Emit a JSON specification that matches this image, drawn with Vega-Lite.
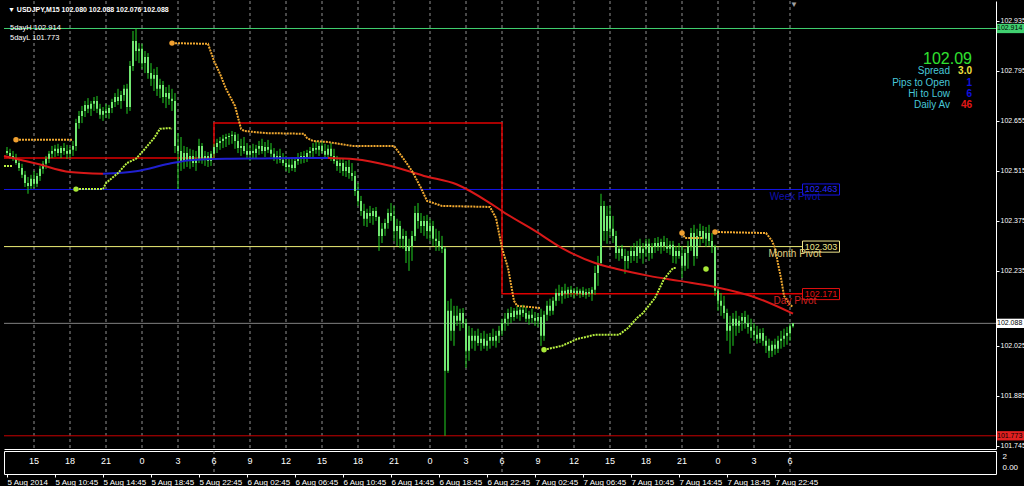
{
"$schema": "https://vega.github.io/schema/vega-lite/v6.json",
"background": "black",
"padding": 0,
"spacing": 2,
"bounds": "flush",
"config": {"view": {"stroke": null}, "axis": {"grid": false, "title": null}},
"datasets": {
"grid": [{"t":"2014-08-05T09:00Z","hr":"15"},{"t":"2014-08-05T12:00Z","hr":"18"},{"t":"2014-08-05T15:00Z","hr":"21"},{"t":"2014-08-05T18:00Z","hr":"0"},{"t":"2014-08-05T21:00Z","hr":"3"},{"t":"2014-08-06T00:00Z","hr":"6"},{"t":"2014-08-06T03:00Z","hr":"9"},{"t":"2014-08-06T06:00Z","hr":"12"},{"t":"2014-08-06T09:00Z","hr":"15"},{"t":"2014-08-06T12:00Z","hr":"18"},{"t":"2014-08-06T15:00Z","hr":"21"},{"t":"2014-08-06T18:00Z","hr":"0"},{"t":"2014-08-06T21:00Z","hr":"3"},{"t":"2014-08-07T00:00Z","hr":"6"},{"t":"2014-08-07T03:00Z","hr":"9"},{"t":"2014-08-07T06:00Z","hr":"12"},{"t":"2014-08-07T09:00Z","hr":"15"},{"t":"2014-08-07T12:00Z","hr":"18"},{"t":"2014-08-07T15:00Z","hr":"21"},{"t":"2014-08-07T18:00Z","hr":"0"},{"t":"2014-08-07T21:00Z","hr":"3"},{"t":"2014-08-08T00:00Z","hr":"6"}],
"sep": [{"t":"2014-08-06T00:00Z"},{"t":"2014-08-07T00:00Z"},{"t":"2014-08-08T00:00Z"}],
"hl": [{"k":"h5","p":102.914},{"k":"l5","p":101.773},{"k":"cur","p":102.088}],
"pv": [{"k":"wk","p":102.463,"t1":"2014-08-05T06:30Z","t2":"2014-08-08T01:05Z"},{"k":"mo","p":102.303,"t1":"2014-08-05T06:30Z","t2":"2014-08-08T01:05Z"}],
"dp": [{"t":"2014-08-05T06:30Z","p":102.551},{"t":"2014-08-06T00:00Z","p":102.649},{"t":"2014-08-07T00:00Z","p":102.171},{"t":"2014-08-08T01:05Z","p":102.171}],
"ma": [
{"t":"2014-08-05T06:30Z","v":102.557,"s":"a"},{"t":"2014-08-05T09:15Z","v":102.535,"s":"a"},{"t":"2014-08-05T12:00Z","v":102.512,"s":"a"},{"t":"2014-08-05T14:45Z","v":102.507,"s":"a"},
{"t":"2014-08-05T14:45Z","v":102.507,"s":"b"},{"t":"2014-08-05T17:30Z","v":102.514,"s":"b"},{"t":"2014-08-05T20:15Z","v":102.535,"s":"b"},{"t":"2014-08-05T22:00Z","v":102.545,"s":"b"},{"t":"2014-08-06T01:00Z","v":102.549,"s":"b"},{"t":"2014-08-06T04:00Z","v":102.550,"s":"b"},{"t":"2014-08-06T07:00Z","v":102.551,"s":"b"},{"t":"2014-08-06T09:30Z","v":102.551,"s":"b"},
{"t":"2014-08-06T09:30Z","v":102.551,"s":"c"},{"t":"2014-08-06T11:45Z","v":102.548,"s":"c"},{"t":"2014-08-06T14:45Z","v":102.529,"s":"c"},{"t":"2014-08-06T17:30Z","v":102.501,"s":"c"},{"t":"2014-08-06T20:15Z","v":102.477,"s":"c"},{"t":"2014-08-06T23:00Z","v":102.425,"s":"c"},{"t":"2014-08-07T00:15Z","v":102.397,"s":"c"},{"t":"2014-08-07T02:45Z","v":102.347,"s":"c"},{"t":"2014-08-07T05:00Z","v":102.299,"s":"c"},{"t":"2014-08-07T07:45Z","v":102.257,"s":"c"},{"t":"2014-08-07T09:30Z","v":102.241,"s":"c"},{"t":"2014-08-07T12:15Z","v":102.221,"s":"c"},{"t":"2014-08-07T14:45Z","v":102.207,"s":"c"},{"t":"2014-08-07T17:45Z","v":102.190,"s":"c"},{"t":"2014-08-07T21:00Z","v":102.162,"s":"c"},{"t":"2014-08-08T00:15Z","v":102.115,"s":"c"}
],
"ind": [
{"t":"2014-08-05T07:30Z","v":102.602,"s":"o1","k":"o"},{"t":"2014-08-05T12:15Z","v":102.602,"s":"o1","k":"o"},
{"t":"2014-08-05T20:30Z","v":102.873,"s":"o2","k":"o"},{"t":"2014-08-05T23:30Z","v":102.871,"s":"o2","k":"o"},{"t":"2014-08-06T00:00Z","v":102.823,"s":"o2","k":"o"},{"t":"2014-08-06T00:30Z","v":102.787,"s":"o2","k":"o"},{"t":"2014-08-06T01:00Z","v":102.745,"s":"o2","k":"o"},{"t":"2014-08-06T01:45Z","v":102.697,"s":"o2","k":"o"},{"t":"2014-08-06T02:15Z","v":102.633,"s":"o2","k":"o"},{"t":"2014-08-06T02:30Z","v":102.627,"s":"o2","k":"o"},{"t":"2014-08-06T04:15Z","v":102.621,"s":"o2","k":"o"},{"t":"2014-08-06T07:30Z","v":102.619,"s":"o2","k":"o"},{"t":"2014-08-06T07:45Z","v":102.607,"s":"o2","k":"o"},{"t":"2014-08-06T08:15Z","v":102.599,"s":"o2","k":"o"},{"t":"2014-08-06T09:30Z","v":102.596,"s":"o2","k":"o"},{"t":"2014-08-06T11:30Z","v":102.585,"s":"o2","k":"o"},{"t":"2014-08-06T15:00Z","v":102.585,"s":"o2","k":"o"},{"t":"2014-08-06T15:45Z","v":102.551,"s":"o2","k":"o"},{"t":"2014-08-06T16:30Z","v":102.515,"s":"o2","k":"o"},{"t":"2014-08-06T17:15Z","v":102.467,"s":"o2","k":"o"},{"t":"2014-08-06T17:45Z","v":102.431,"s":"o2","k":"o"},{"t":"2014-08-06T19:00Z","v":102.417,"s":"o2","k":"o"},{"t":"2014-08-06T23:00Z","v":102.414,"s":"o2","k":"o"},{"t":"2014-08-06T23:30Z","v":102.383,"s":"o2","k":"o"},{"t":"2014-08-07T00:00Z","v":102.299,"s":"o2","k":"o"},{"t":"2014-08-07T00:30Z","v":102.243,"s":"o2","k":"o"},{"t":"2014-08-07T01:00Z","v":102.151,"s":"o2","k":"o"},{"t":"2014-08-07T01:15Z","v":102.137,"s":"o2","k":"o"},{"t":"2014-08-07T03:15Z","v":102.131,"s":"o2","k":"o"},
{"t":"2014-08-07T15:00Z","v":102.341,"s":"o3","k":"o"},{"t":"2014-08-07T15:15Z","v":102.327,"s":"o3","k":"o"},{"t":"2014-08-07T16:45Z","v":102.327,"s":"o3","k":"o"},
{"t":"2014-08-07T17:45Z","v":102.344,"s":"o4","k":"o"},{"t":"2014-08-07T22:00Z","v":102.341,"s":"o4","k":"o"},{"t":"2014-08-07T22:30Z","v":102.319,"s":"o4","k":"o"},{"t":"2014-08-07T22:45Z","v":102.299,"s":"o4","k":"o"},{"t":"2014-08-07T23:00Z","v":102.255,"s":"o4","k":"o"},{"t":"2014-08-07T23:15Z","v":102.215,"s":"o4","k":"o"},{"t":"2014-08-07T23:30Z","v":102.165,"s":"o4","k":"o"},{"t":"2014-08-08T00:00Z","v":102.140,"s":"o4","k":"o"},{"t":"2014-08-08T00:15Z","v":102.134,"s":"o4","k":"o"},
{"t":"2014-08-05T06:30Z","v":102.529,"s":"g1","k":"g"},{"t":"2014-08-05T07:15Z","v":102.529,"s":"g1","k":"g"},
{"t":"2014-08-05T12:30Z","v":102.464,"s":"g2","k":"g"},{"t":"2014-08-05T14:45Z","v":102.464,"s":"g2","k":"g"},{"t":"2014-08-05T15:00Z","v":102.481,"s":"g2","k":"g"},{"t":"2014-08-05T16:00Z","v":102.509,"s":"g2","k":"g"},{"t":"2014-08-05T16:45Z","v":102.537,"s":"g2","k":"g"},{"t":"2014-08-05T17:30Z","v":102.549,"s":"g2","k":"g"},{"t":"2014-08-05T18:15Z","v":102.577,"s":"g2","k":"g"},{"t":"2014-08-05T19:00Z","v":102.607,"s":"g2","k":"g"},{"t":"2014-08-05T19:30Z","v":102.633,"s":"g2","k":"g"},{"t":"2014-08-05T20:15Z","v":102.635,"s":"g2","k":"g"},{"t":"2014-08-05T20:30Z","v":102.633,"s":"g2","k":"g"},
{"t":"2014-08-07T03:30Z","v":102.014,"s":"g3","k":"g"},{"t":"2014-08-07T05:00Z","v":102.025,"s":"g3","k":"g"},{"t":"2014-08-07T06:15Z","v":102.044,"s":"g3","k":"g"},{"t":"2014-08-07T07:45Z","v":102.056,"s":"g3","k":"g"},{"t":"2014-08-07T09:45Z","v":102.056,"s":"g3","k":"g"},{"t":"2014-08-07T10:30Z","v":102.075,"s":"g3","k":"g"},{"t":"2014-08-07T11:15Z","v":102.103,"s":"g3","k":"g"},{"t":"2014-08-07T11:45Z","v":102.117,"s":"g3","k":"g"},{"t":"2014-08-07T12:45Z","v":102.159,"s":"g3","k":"g"},{"t":"2014-08-07T13:30Z","v":102.212,"s":"g3","k":"g"},{"t":"2014-08-07T14:15Z","v":102.243,"s":"g3","k":"g"},{"t":"2014-08-07T14:30Z","v":102.243,"s":"g3","k":"g"}
],
"dots": [{"t":"2014-08-05T07:30Z","v":102.602,"k":"o"},{"t":"2014-08-05T20:30Z","v":102.873,"k":"o"},{"t":"2014-08-07T15:00Z","v":102.341,"k":"o"},{"t":"2014-08-07T17:45Z","v":102.344,"k":"o"},{"t":"2014-08-05T12:30Z","v":102.464,"k":"g"},{"t":"2014-08-07T03:30Z","v":102.014,"k":"g"},{"t":"2014-08-07T17:00Z","v":102.240,"k":"g"}],
"pbox": [{"k":"wk","t":"2014-08-08T02:35Z","p":102.463,"s":"102.463"},{"k":"mo","t":"2014-08-08T02:35Z","p":102.303,"s":"102.303"},{"k":"dy","t":"2014-08-08T02:35Z","p":102.170,"s":"102.171"}],
"pname": [{"k":"wk","t":"2014-08-08T00:25Z","p":102.443,"s":"Week Pivot"},{"k":"mo","t":"2014-08-08T00:25Z","p":102.283,"s":"Month Pivot"},{"k":"dy","t":"2014-08-08T00:25Z","p":102.151,"s":"Day Pivot"}],
"abox": [{"k":"h5","tb":"2014-08-08T18:32Z","tt":"2014-08-08T17:15Z","p":102.914,"s":"102.914"},{"k":"cur","tb":"2014-08-08T18:32Z","tt":"2014-08-08T17:15Z","p":102.088,"s":"102.088"},{"k":"l5","tb":"2014-08-08T18:32Z","tt":"2014-08-08T17:15Z","p":101.773,"s":"101.773"}],
"title": [{"t":"2014-08-05T06:50Z","p":102.966,"s":"▼ USDJPY,M15  102.080 102.088 102.076 102.088"}],
"five": [{"t":"2014-08-05T07:00Z","p":102.915,"s":"5dayH 102.914"},{"t":"2014-08-05T07:00Z","p":102.887,"s":"5dayL 101.773"}],
"big": [{"t":"2014-08-08T15:10Z","p":102.829,"s":"102.09"}],
"ilab": [{"t":"2014-08-08T13:20Z","p":102.795,"s":"Spread"},{"t":"2014-08-08T13:20Z","p":102.762,"s":"Pips to Open"},{"t":"2014-08-08T13:20Z","p":102.731,"s":"Hi to Low"},{"t":"2014-08-08T13:20Z","p":102.700,"s":"Daily Av"}],
"ival": [{"k":"sp","t":"2014-08-08T15:10Z","p":102.795,"s":"3.0"},{"k":"po","t":"2014-08-08T15:10Z","p":102.762,"s":"1"},{"k":"hl","t":"2014-08-08T15:10Z","p":102.731,"s":"6"},{"k":"da","t":"2014-08-08T15:10Z","p":102.700,"s":"46"}],
"shift": [{"t":"2014-08-08T00:20Z","p":102.979,"s":"▼"}],
"bars": [
{"t":"2014-08-05T06:45Z","o":102.571,"h":102.582,"l":102.560,"c":102.565},
{"t":"2014-08-05T07:00Z","o":102.565,"h":102.577,"l":102.549,"c":102.557},
{"t":"2014-08-05T07:15Z","o":102.557,"h":102.571,"l":102.543,"c":102.551},
{"t":"2014-08-05T07:30Z","o":102.551,"h":102.563,"l":102.532,"c":102.537},
{"t":"2014-08-05T07:45Z","o":102.537,"h":102.549,"l":102.515,"c":102.523},
{"t":"2014-08-05T08:00Z","o":102.523,"h":102.535,"l":102.495,"c":102.504},
{"t":"2014-08-05T08:15Z","o":102.504,"h":102.515,"l":102.470,"c":102.481},
{"t":"2014-08-05T08:30Z","o":102.481,"h":102.498,"l":102.451,"c":102.473},
{"t":"2014-08-05T08:45Z","o":102.473,"h":102.504,"l":102.465,"c":102.493},
{"t":"2014-08-05T09:00Z","o":102.493,"h":102.515,"l":102.467,"c":102.479},
{"t":"2014-08-05T09:15Z","o":102.479,"h":102.509,"l":102.470,"c":102.501},
{"t":"2014-08-05T09:30Z","o":102.501,"h":102.529,"l":102.487,"c":102.521},
{"t":"2014-08-05T09:45Z","o":102.521,"h":102.543,"l":102.507,"c":102.535},
{"t":"2014-08-05T10:00Z","o":102.535,"h":102.557,"l":102.521,"c":102.549},
{"t":"2014-08-05T10:15Z","o":102.549,"h":102.571,"l":102.537,"c":102.563},
{"t":"2014-08-05T10:30Z","o":102.563,"h":102.585,"l":102.551,"c":102.571},
{"t":"2014-08-05T10:45Z","o":102.571,"h":102.588,"l":102.554,"c":102.577},
{"t":"2014-08-05T11:00Z","o":102.577,"h":102.591,"l":102.557,"c":102.565},
{"t":"2014-08-05T11:15Z","o":102.565,"h":102.585,"l":102.551,"c":102.579},
{"t":"2014-08-05T11:30Z","o":102.579,"h":102.593,"l":102.560,"c":102.571},
{"t":"2014-08-05T11:45Z","o":102.571,"h":102.588,"l":102.549,"c":102.563},
{"t":"2014-08-05T12:00Z","o":102.563,"h":102.582,"l":102.551,"c":102.574},
{"t":"2014-08-05T12:15Z","o":102.574,"h":102.599,"l":102.557,"c":102.585},
{"t":"2014-08-05T12:30Z","o":102.585,"h":102.661,"l":102.571,"c":102.649},
{"t":"2014-08-05T12:45Z","o":102.649,"h":102.683,"l":102.633,"c":102.669},
{"t":"2014-08-05T13:00Z","o":102.669,"h":102.697,"l":102.649,"c":102.683},
{"t":"2014-08-05T13:15Z","o":102.683,"h":102.711,"l":102.666,"c":102.700},
{"t":"2014-08-05T13:30Z","o":102.700,"h":102.719,"l":102.677,"c":102.689},
{"t":"2014-08-05T13:45Z","o":102.689,"h":102.711,"l":102.669,"c":102.703},
{"t":"2014-08-05T14:00Z","o":102.703,"h":102.722,"l":102.683,"c":102.711},
{"t":"2014-08-05T14:15Z","o":102.711,"h":102.725,"l":102.677,"c":102.689},
{"t":"2014-08-05T14:30Z","o":102.689,"h":102.703,"l":102.661,"c":102.672},
{"t":"2014-08-05T14:45Z","o":102.672,"h":102.694,"l":102.655,"c":102.683},
{"t":"2014-08-05T15:00Z","o":102.683,"h":102.703,"l":102.663,"c":102.677},
{"t":"2014-08-05T15:15Z","o":102.677,"h":102.700,"l":102.661,"c":102.691},
{"t":"2014-08-05T15:30Z","o":102.691,"h":102.717,"l":102.677,"c":102.708},
{"t":"2014-08-05T15:45Z","o":102.708,"h":102.733,"l":102.694,"c":102.722},
{"t":"2014-08-05T16:00Z","o":102.722,"h":102.745,"l":102.700,"c":102.711},
{"t":"2014-08-05T16:15Z","o":102.711,"h":102.739,"l":102.689,"c":102.728},
{"t":"2014-08-05T16:30Z","o":102.728,"h":102.756,"l":102.711,"c":102.745},
{"t":"2014-08-05T16:45Z","o":102.745,"h":102.759,"l":102.675,"c":102.694},
{"t":"2014-08-05T17:00Z","o":102.694,"h":102.823,"l":102.683,"c":102.809},
{"t":"2014-08-05T17:15Z","o":102.809,"h":102.907,"l":102.795,"c":102.879},
{"t":"2014-08-05T17:30Z","o":102.879,"h":102.914,"l":102.823,"c":102.851},
{"t":"2014-08-05T17:45Z","o":102.851,"h":102.873,"l":102.817,"c":102.857},
{"t":"2014-08-05T18:00Z","o":102.857,"h":102.871,"l":102.801,"c":102.817},
{"t":"2014-08-05T18:15Z","o":102.817,"h":102.851,"l":102.789,"c":102.834},
{"t":"2014-08-05T18:30Z","o":102.834,"h":102.845,"l":102.773,"c":102.789},
{"t":"2014-08-05T18:45Z","o":102.789,"h":102.817,"l":102.753,"c":102.773},
{"t":"2014-08-05T19:00Z","o":102.773,"h":102.801,"l":102.739,"c":102.784},
{"t":"2014-08-05T19:15Z","o":102.784,"h":102.806,"l":102.725,"c":102.745},
{"t":"2014-08-05T19:30Z","o":102.745,"h":102.773,"l":102.719,"c":102.756},
{"t":"2014-08-05T19:45Z","o":102.756,"h":102.767,"l":102.705,"c":102.722},
{"t":"2014-08-05T20:00Z","o":102.722,"h":102.750,"l":102.691,"c":102.733},
{"t":"2014-08-05T20:15Z","o":102.733,"h":102.756,"l":102.700,"c":102.717},
{"t":"2014-08-05T20:30Z","o":102.717,"h":102.745,"l":102.683,"c":102.711},
{"t":"2014-08-05T20:45Z","o":102.711,"h":102.733,"l":102.565,"c":102.585},
{"t":"2014-08-05T21:00Z","o":102.585,"h":102.621,"l":102.465,"c":102.571},
{"t":"2014-08-05T21:15Z","o":102.571,"h":102.610,"l":102.515,"c":102.543},
{"t":"2014-08-05T21:30Z","o":102.543,"h":102.585,"l":102.521,"c":102.565},
{"t":"2014-08-05T21:45Z","o":102.565,"h":102.582,"l":102.526,"c":102.543},
{"t":"2014-08-05T22:00Z","o":102.543,"h":102.577,"l":102.521,"c":102.557},
{"t":"2014-08-05T22:15Z","o":102.557,"h":102.574,"l":102.526,"c":102.537},
{"t":"2014-08-05T22:30Z","o":102.537,"h":102.571,"l":102.515,"c":102.549},
{"t":"2014-08-05T22:45Z","o":102.549,"h":102.605,"l":102.537,"c":102.585},
{"t":"2014-08-05T23:00Z","o":102.585,"h":102.593,"l":102.535,"c":102.549},
{"t":"2014-08-05T23:15Z","o":102.549,"h":102.571,"l":102.529,"c":102.557},
{"t":"2014-08-05T23:30Z","o":102.557,"h":102.568,"l":102.526,"c":102.543},
{"t":"2014-08-05T23:45Z","o":102.543,"h":102.571,"l":102.529,"c":102.563},
{"t":"2014-08-06T00:00Z","o":102.563,"h":102.591,"l":102.549,"c":102.582},
{"t":"2014-08-06T00:15Z","o":102.582,"h":102.605,"l":102.565,"c":102.593},
{"t":"2014-08-06T00:30Z","o":102.593,"h":102.610,"l":102.574,"c":102.599},
{"t":"2014-08-06T00:45Z","o":102.599,"h":102.616,"l":102.579,"c":102.605},
{"t":"2014-08-06T01:00Z","o":102.605,"h":102.619,"l":102.582,"c":102.610},
{"t":"2014-08-06T01:15Z","o":102.610,"h":102.621,"l":102.588,"c":102.613},
{"t":"2014-08-06T01:30Z","o":102.613,"h":102.627,"l":102.591,"c":102.616},
{"t":"2014-08-06T01:45Z","o":102.616,"h":102.624,"l":102.577,"c":102.599},
{"t":"2014-08-06T02:00Z","o":102.599,"h":102.619,"l":102.565,"c":102.579},
{"t":"2014-08-06T02:15Z","o":102.579,"h":102.605,"l":102.557,"c":102.585},
{"t":"2014-08-06T02:30Z","o":102.585,"h":102.610,"l":102.563,"c":102.571},
{"t":"2014-08-06T02:45Z","o":102.571,"h":102.593,"l":102.549,"c":102.560},
{"t":"2014-08-06T03:00Z","o":102.560,"h":102.585,"l":102.543,"c":102.571},
{"t":"2014-08-06T03:15Z","o":102.571,"h":102.591,"l":102.551,"c":102.565},
{"t":"2014-08-06T03:30Z","o":102.565,"h":102.588,"l":102.549,"c":102.577},
{"t":"2014-08-06T03:45Z","o":102.577,"h":102.599,"l":102.560,"c":102.585},
{"t":"2014-08-06T04:00Z","o":102.585,"h":102.605,"l":102.563,"c":102.571},
{"t":"2014-08-06T04:15Z","o":102.571,"h":102.596,"l":102.554,"c":102.582},
{"t":"2014-08-06T04:30Z","o":102.582,"h":102.602,"l":102.565,"c":102.574},
{"t":"2014-08-06T04:45Z","o":102.574,"h":102.593,"l":102.554,"c":102.563},
{"t":"2014-08-06T05:00Z","o":102.563,"h":102.579,"l":102.543,"c":102.551},
{"t":"2014-08-06T05:15Z","o":102.551,"h":102.571,"l":102.535,"c":102.557},
{"t":"2014-08-06T05:30Z","o":102.557,"h":102.577,"l":102.537,"c":102.546},
{"t":"2014-08-06T05:45Z","o":102.546,"h":102.565,"l":102.529,"c":102.537},
{"t":"2014-08-06T06:00Z","o":102.537,"h":102.557,"l":102.515,"c":102.526},
{"t":"2014-08-06T06:15Z","o":102.526,"h":102.549,"l":102.509,"c":102.532},
{"t":"2014-08-06T06:30Z","o":102.532,"h":102.551,"l":102.515,"c":102.523},
{"t":"2014-08-06T06:45Z","o":102.523,"h":102.549,"l":102.512,"c":102.543},
{"t":"2014-08-06T07:00Z","o":102.543,"h":102.565,"l":102.532,"c":102.549},
{"t":"2014-08-06T07:15Z","o":102.549,"h":102.568,"l":102.535,"c":102.557},
{"t":"2014-08-06T07:30Z","o":102.557,"h":102.571,"l":102.537,"c":102.551},
{"t":"2014-08-06T07:45Z","o":102.551,"h":102.574,"l":102.540,"c":102.565},
{"t":"2014-08-06T08:00Z","o":102.565,"h":102.582,"l":102.549,"c":102.571},
{"t":"2014-08-06T08:15Z","o":102.571,"h":102.593,"l":102.554,"c":102.579},
{"t":"2014-08-06T08:30Z","o":102.579,"h":102.599,"l":102.563,"c":102.574},
{"t":"2014-08-06T08:45Z","o":102.574,"h":102.596,"l":102.557,"c":102.585},
{"t":"2014-08-06T09:00Z","o":102.585,"h":102.599,"l":102.565,"c":102.571},
{"t":"2014-08-06T09:15Z","o":102.571,"h":102.591,"l":102.549,"c":102.560},
{"t":"2014-08-06T09:30Z","o":102.560,"h":102.588,"l":102.549,"c":102.577},
{"t":"2014-08-06T09:45Z","o":102.577,"h":102.593,"l":102.543,"c":102.557},
{"t":"2014-08-06T10:00Z","o":102.557,"h":102.577,"l":102.535,"c":102.543},
{"t":"2014-08-06T10:15Z","o":102.543,"h":102.557,"l":102.515,"c":102.529},
{"t":"2014-08-06T10:30Z","o":102.529,"h":102.549,"l":102.509,"c":102.537},
{"t":"2014-08-06T10:45Z","o":102.537,"h":102.551,"l":102.501,"c":102.515},
{"t":"2014-08-06T11:00Z","o":102.515,"h":102.543,"l":102.498,"c":102.526},
{"t":"2014-08-06T11:15Z","o":102.526,"h":102.546,"l":102.493,"c":102.509},
{"t":"2014-08-06T11:30Z","o":102.509,"h":102.537,"l":102.487,"c":102.501},
{"t":"2014-08-06T11:45Z","o":102.501,"h":102.515,"l":102.445,"c":102.459},
{"t":"2014-08-06T12:00Z","o":102.459,"h":102.481,"l":102.417,"c":102.431},
{"t":"2014-08-06T12:15Z","o":102.431,"h":102.445,"l":102.389,"c":102.403},
{"t":"2014-08-06T12:30Z","o":102.403,"h":102.423,"l":102.361,"c":102.381},
{"t":"2014-08-06T12:45Z","o":102.381,"h":102.409,"l":102.358,"c":102.397},
{"t":"2014-08-06T13:00Z","o":102.397,"h":102.417,"l":102.369,"c":102.389},
{"t":"2014-08-06T13:15Z","o":102.389,"h":102.411,"l":102.364,"c":102.403},
{"t":"2014-08-06T13:30Z","o":102.403,"h":102.414,"l":102.375,"c":102.386},
{"t":"2014-08-06T13:45Z","o":102.386,"h":102.389,"l":102.291,"c":102.333},
{"t":"2014-08-06T14:00Z","o":102.333,"h":102.369,"l":102.313,"c":102.353},
{"t":"2014-08-06T14:15Z","o":102.353,"h":102.381,"l":102.333,"c":102.369},
{"t":"2014-08-06T14:30Z","o":102.369,"h":102.409,"l":102.353,"c":102.397},
{"t":"2014-08-06T14:45Z","o":102.397,"h":102.425,"l":102.375,"c":102.389},
{"t":"2014-08-06T15:00Z","o":102.389,"h":102.417,"l":102.319,"c":102.347},
{"t":"2014-08-06T15:15Z","o":102.347,"h":102.381,"l":102.305,"c":102.361},
{"t":"2014-08-06T15:30Z","o":102.361,"h":102.375,"l":102.299,"c":102.325},
{"t":"2014-08-06T15:45Z","o":102.325,"h":102.353,"l":102.297,"c":102.333},
{"t":"2014-08-06T16:00Z","o":102.333,"h":102.347,"l":102.257,"c":102.291},
{"t":"2014-08-06T16:15Z","o":102.291,"h":102.325,"l":102.235,"c":102.305},
{"t":"2014-08-06T16:30Z","o":102.305,"h":102.347,"l":102.263,"c":102.333},
{"t":"2014-08-06T16:45Z","o":102.333,"h":102.417,"l":102.319,"c":102.397},
{"t":"2014-08-06T17:00Z","o":102.397,"h":102.425,"l":102.353,"c":102.375},
{"t":"2014-08-06T17:15Z","o":102.375,"h":102.397,"l":102.341,"c":102.361},
{"t":"2014-08-06T17:30Z","o":102.361,"h":102.389,"l":102.333,"c":102.375},
{"t":"2014-08-06T17:45Z","o":102.375,"h":102.392,"l":102.325,"c":102.347},
{"t":"2014-08-06T18:00Z","o":102.347,"h":102.381,"l":102.319,"c":102.361},
{"t":"2014-08-06T18:15Z","o":102.361,"h":102.375,"l":102.305,"c":102.325},
{"t":"2014-08-06T18:30Z","o":102.325,"h":102.353,"l":102.291,"c":102.319},
{"t":"2014-08-06T18:45Z","o":102.319,"h":102.347,"l":102.291,"c":102.305},
{"t":"2014-08-06T19:00Z","o":102.305,"h":102.333,"l":102.285,"c":102.297},
{"t":"2014-08-06T19:15Z","o":102.297,"h":102.302,"l":101.773,"c":101.955},
{"t":"2014-08-06T19:30Z","o":101.955,"h":102.151,"l":101.949,"c":102.123},
{"t":"2014-08-06T19:45Z","o":102.123,"h":102.157,"l":102.039,"c":102.067},
{"t":"2014-08-06T20:00Z","o":102.067,"h":102.137,"l":102.025,"c":102.109},
{"t":"2014-08-06T20:15Z","o":102.109,"h":102.137,"l":102.081,"c":102.095},
{"t":"2014-08-06T20:30Z","o":102.095,"h":102.129,"l":102.067,"c":102.117},
{"t":"2014-08-06T20:45Z","o":102.117,"h":102.131,"l":102.075,"c":102.089},
{"t":"2014-08-06T21:00Z","o":102.089,"h":102.101,"l":101.963,"c":102.011},
{"t":"2014-08-06T21:15Z","o":102.011,"h":102.081,"l":101.983,"c":102.053},
{"t":"2014-08-06T21:30Z","o":102.053,"h":102.075,"l":102.017,"c":102.039},
{"t":"2014-08-06T21:45Z","o":102.039,"h":102.067,"l":102.011,"c":102.053},
{"t":"2014-08-06T22:00Z","o":102.053,"h":102.073,"l":102.025,"c":102.033},
{"t":"2014-08-06T22:15Z","o":102.033,"h":102.061,"l":102.011,"c":102.045},
{"t":"2014-08-06T22:30Z","o":102.045,"h":102.067,"l":102.017,"c":102.025},
{"t":"2014-08-06T22:45Z","o":102.025,"h":102.059,"l":102.011,"c":102.039},
{"t":"2014-08-06T23:00Z","o":102.039,"h":102.061,"l":102.017,"c":102.050},
{"t":"2014-08-06T23:15Z","o":102.050,"h":102.073,"l":102.025,"c":102.039},
{"t":"2014-08-06T23:30Z","o":102.039,"h":102.067,"l":102.020,"c":102.053},
{"t":"2014-08-06T23:45Z","o":102.053,"h":102.081,"l":102.033,"c":102.067},
{"t":"2014-08-07T00:00Z","o":102.067,"h":102.101,"l":102.053,"c":102.089},
{"t":"2014-08-07T00:15Z","o":102.089,"h":102.117,"l":102.067,"c":102.101},
{"t":"2014-08-07T00:30Z","o":102.101,"h":102.129,"l":102.081,"c":102.117},
{"t":"2014-08-07T00:45Z","o":102.117,"h":102.134,"l":102.089,"c":102.106},
{"t":"2014-08-07T01:00Z","o":102.106,"h":102.131,"l":102.095,"c":102.123},
{"t":"2014-08-07T01:15Z","o":102.123,"h":102.137,"l":102.101,"c":102.112},
{"t":"2014-08-07T01:30Z","o":102.112,"h":102.134,"l":102.095,"c":102.126},
{"t":"2014-08-07T01:45Z","o":102.126,"h":102.140,"l":102.106,"c":102.117},
{"t":"2014-08-07T02:00Z","o":102.117,"h":102.134,"l":102.092,"c":102.101},
{"t":"2014-08-07T02:15Z","o":102.101,"h":102.123,"l":102.084,"c":102.112},
{"t":"2014-08-07T02:30Z","o":102.112,"h":102.129,"l":102.089,"c":102.103},
{"t":"2014-08-07T02:45Z","o":102.103,"h":102.120,"l":102.081,"c":102.095},
{"t":"2014-08-07T03:00Z","o":102.095,"h":102.117,"l":102.078,"c":102.106},
{"t":"2014-08-07T03:15Z","o":102.106,"h":102.129,"l":102.025,"c":102.053},
{"t":"2014-08-07T03:30Z","o":102.053,"h":102.123,"l":102.039,"c":102.112},
{"t":"2014-08-07T03:45Z","o":102.112,"h":102.151,"l":102.095,"c":102.137},
{"t":"2014-08-07T04:00Z","o":102.137,"h":102.157,"l":102.109,"c":102.123},
{"t":"2014-08-07T04:15Z","o":102.123,"h":102.162,"l":102.112,"c":102.151},
{"t":"2014-08-07T04:30Z","o":102.151,"h":102.185,"l":102.137,"c":102.173},
{"t":"2014-08-07T04:45Z","o":102.173,"h":102.196,"l":102.151,"c":102.165},
{"t":"2014-08-07T05:00Z","o":102.165,"h":102.190,"l":102.143,"c":102.179},
{"t":"2014-08-07T05:15Z","o":102.179,"h":102.199,"l":102.157,"c":102.171},
{"t":"2014-08-07T05:30Z","o":102.171,"h":102.190,"l":102.159,"c":102.182},
{"t":"2014-08-07T05:45Z","o":102.182,"h":102.193,"l":102.162,"c":102.173},
{"t":"2014-08-07T06:00Z","o":102.173,"h":102.187,"l":102.157,"c":102.179},
{"t":"2014-08-07T06:15Z","o":102.179,"h":102.190,"l":102.165,"c":102.171},
{"t":"2014-08-07T06:30Z","o":102.171,"h":102.185,"l":102.159,"c":102.179},
{"t":"2014-08-07T06:45Z","o":102.179,"h":102.190,"l":102.162,"c":102.168},
{"t":"2014-08-07T07:00Z","o":102.168,"h":102.185,"l":102.157,"c":102.176},
{"t":"2014-08-07T07:15Z","o":102.176,"h":102.187,"l":102.162,"c":102.171},
{"t":"2014-08-07T07:30Z","o":102.171,"h":102.190,"l":102.151,"c":102.182},
{"t":"2014-08-07T07:45Z","o":102.182,"h":102.249,"l":102.168,"c":102.229},
{"t":"2014-08-07T08:00Z","o":102.229,"h":102.277,"l":102.193,"c":102.257},
{"t":"2014-08-07T08:15Z","o":102.257,"h":102.451,"l":102.249,"c":102.417},
{"t":"2014-08-07T08:30Z","o":102.417,"h":102.431,"l":102.319,"c":102.347},
{"t":"2014-08-07T08:45Z","o":102.347,"h":102.417,"l":102.311,"c":102.389},
{"t":"2014-08-07T09:00Z","o":102.389,"h":102.417,"l":102.333,"c":102.353},
{"t":"2014-08-07T09:15Z","o":102.353,"h":102.389,"l":102.313,"c":102.333},
{"t":"2014-08-07T09:30Z","o":102.333,"h":102.347,"l":102.269,"c":102.285},
{"t":"2014-08-07T09:45Z","o":102.285,"h":102.305,"l":102.263,"c":102.297},
{"t":"2014-08-07T10:00Z","o":102.297,"h":102.308,"l":102.269,"c":102.277},
{"t":"2014-08-07T10:15Z","o":102.277,"h":102.297,"l":102.227,"c":102.263},
{"t":"2014-08-07T10:30Z","o":102.263,"h":102.291,"l":102.241,"c":102.277},
{"t":"2014-08-07T10:45Z","o":102.277,"h":102.305,"l":102.257,"c":102.291},
{"t":"2014-08-07T11:00Z","o":102.291,"h":102.313,"l":102.263,"c":102.277},
{"t":"2014-08-07T11:15Z","o":102.277,"h":102.319,"l":102.257,"c":102.305},
{"t":"2014-08-07T11:30Z","o":102.305,"h":102.325,"l":102.269,"c":102.285},
{"t":"2014-08-07T11:45Z","o":102.285,"h":102.313,"l":102.255,"c":102.297},
{"t":"2014-08-07T12:00Z","o":102.297,"h":102.325,"l":102.274,"c":102.311},
{"t":"2014-08-07T12:15Z","o":102.311,"h":102.325,"l":102.263,"c":102.285},
{"t":"2014-08-07T12:30Z","o":102.285,"h":102.313,"l":102.269,"c":102.302},
{"t":"2014-08-07T12:45Z","o":102.302,"h":102.327,"l":102.285,"c":102.313},
{"t":"2014-08-07T13:00Z","o":102.313,"h":102.330,"l":102.291,"c":102.302},
{"t":"2014-08-07T13:15Z","o":102.302,"h":102.325,"l":102.283,"c":102.316},
{"t":"2014-08-07T13:30Z","o":102.316,"h":102.333,"l":102.291,"c":102.305},
{"t":"2014-08-07T13:45Z","o":102.305,"h":102.327,"l":102.285,"c":102.297},
{"t":"2014-08-07T14:00Z","o":102.297,"h":102.319,"l":102.280,"c":102.308},
{"t":"2014-08-07T14:15Z","o":102.308,"h":102.319,"l":102.257,"c":102.277},
{"t":"2014-08-07T14:30Z","o":102.277,"h":102.305,"l":102.255,"c":102.291},
{"t":"2014-08-07T14:45Z","o":102.291,"h":102.313,"l":102.269,"c":102.277},
{"t":"2014-08-07T15:00Z","o":102.277,"h":102.305,"l":102.215,"c":102.249},
{"t":"2014-08-07T15:15Z","o":102.249,"h":102.297,"l":102.235,"c":102.285},
{"t":"2014-08-07T15:30Z","o":102.285,"h":102.319,"l":102.241,"c":102.305},
{"t":"2014-08-07T15:45Z","o":102.305,"h":102.355,"l":102.291,"c":102.341},
{"t":"2014-08-07T16:00Z","o":102.341,"h":102.364,"l":102.249,"c":102.277},
{"t":"2014-08-07T16:15Z","o":102.277,"h":102.353,"l":102.269,"c":102.333},
{"t":"2014-08-07T16:30Z","o":102.333,"h":102.367,"l":102.305,"c":102.347},
{"t":"2014-08-07T16:45Z","o":102.347,"h":102.361,"l":102.313,"c":102.325},
{"t":"2014-08-07T17:00Z","o":102.325,"h":102.358,"l":102.302,"c":102.341},
{"t":"2014-08-07T17:15Z","o":102.341,"h":102.364,"l":102.305,"c":102.319},
{"t":"2014-08-07T17:30Z","o":102.319,"h":102.341,"l":102.285,"c":102.302},
{"t":"2014-08-07T17:45Z","o":102.302,"h":102.308,"l":102.165,"c":102.179},
{"t":"2014-08-07T18:00Z","o":102.179,"h":102.185,"l":102.123,"c":102.151},
{"t":"2014-08-07T18:15Z","o":102.151,"h":102.173,"l":102.109,"c":102.137},
{"t":"2014-08-07T18:30Z","o":102.137,"h":102.165,"l":102.101,"c":102.117},
{"t":"2014-08-07T18:45Z","o":102.117,"h":102.129,"l":102.039,"c":102.067},
{"t":"2014-08-07T19:00Z","o":102.067,"h":102.109,"l":102.003,"c":102.081},
{"t":"2014-08-07T19:15Z","o":102.081,"h":102.117,"l":102.025,"c":102.101},
{"t":"2014-08-07T19:30Z","o":102.101,"h":102.123,"l":102.053,"c":102.081},
{"t":"2014-08-07T19:45Z","o":102.081,"h":102.109,"l":102.061,"c":102.095},
{"t":"2014-08-07T20:00Z","o":102.095,"h":102.117,"l":102.067,"c":102.106},
{"t":"2014-08-07T20:15Z","o":102.106,"h":102.123,"l":102.073,"c":102.089},
{"t":"2014-08-07T20:30Z","o":102.089,"h":102.112,"l":102.059,"c":102.078},
{"t":"2014-08-07T20:45Z","o":102.078,"h":102.101,"l":102.047,"c":102.067},
{"t":"2014-08-07T21:00Z","o":102.067,"h":102.089,"l":102.039,"c":102.056},
{"t":"2014-08-07T21:15Z","o":102.056,"h":102.081,"l":102.031,"c":102.045},
{"t":"2014-08-07T21:30Z","o":102.045,"h":102.073,"l":102.033,"c":102.061},
{"t":"2014-08-07T21:45Z","o":102.061,"h":102.075,"l":102.025,"c":102.039},
{"t":"2014-08-07T22:00Z","o":102.039,"h":102.053,"l":102.005,"c":102.025},
{"t":"2014-08-07T22:15Z","o":102.025,"h":102.045,"l":101.991,"c":102.011},
{"t":"2014-08-07T22:30Z","o":102.011,"h":102.039,"l":101.994,"c":102.028},
{"t":"2014-08-07T22:45Z","o":102.028,"h":102.045,"l":102.000,"c":102.017},
{"t":"2014-08-07T23:00Z","o":102.017,"h":102.053,"l":102.005,"c":102.039},
{"t":"2014-08-07T23:15Z","o":102.039,"h":102.067,"l":102.017,"c":102.045},
{"t":"2014-08-07T23:30Z","o":102.045,"h":102.073,"l":102.022,"c":102.053},
{"t":"2014-08-07T23:45Z","o":102.053,"h":102.078,"l":102.028,"c":102.061},
{"t":"2014-08-08T00:00Z","o":102.061,"h":102.087,"l":102.039,"c":102.080},
{"t":"2014-08-08T00:15Z","o":102.080,"h":102.088,"l":102.076,"c":102.088}
]
},
"vconcat": [
{
"width": 992, "height": 448,
"view": {"stroke": null},
"layer": [
{"data": {"name": "grid"}, "mark": {"type": "rule", "color": "#909090", "strokeDash": [3, 3], "strokeWidth": 1},
 "encoding": {"x": {"field": "t", "type": "temporal", "scale": {"type": "utc", "domain": [{"year": 2014, "month": 8, "date": 5, "hours": 6, "minutes": 30, "utc": true}, {"year": 2014, "month": 8, "date": 8, "hours": 17, "minutes": 10, "utc": true}]}, "axis": {"orient": "bottom", "labels": false, "ticks": false, "domain": true, "domainColor": "#ffffff", "grid": false, "title": null}}}},
{"data": {"name": "hl"}, "mark": {"type": "rule", "strokeWidth": 1},
 "encoding": {"y": {"field": "p", "type": "quantitative", "scale": {"domain": [101.736, 102.991], "nice": false, "zero": false},
   "axis": {"orient": "right", "values": [102.935, 102.865, 102.795, 102.725, 102.655, 102.585, 102.515, 102.445, 102.375, 102.305, 102.235, 102.165, 102.025, 101.955, 101.885, 101.815, 101.745], "format": ".3f", "labelColor": "#ffffff", "labelFont": "Liberation Sans", "labelFontSize": 7, "labelAlign": "left", "labelBaseline": "middle", "labelPadding": 1, "tickColor": "#ffffff", "tickSize": 3, "domainColor": "#ffffff", "labelFlush": false, "labelOverlap": false, "grid": false, "title": null}},
   "color": {"field": "k", "type": "nominal", "scale": {"domain": ["h5", "l5", "cur"], "range": ["#40d070", "#c80000", "#808080"]}, "legend": null}}},
{"data": {"name": "pv"}, "mark": {"type": "rule", "strokeWidth": 1},
 "encoding": {"x": {"field": "t1", "type": "temporal"}, "x2": {"field": "t2"}, "y": {"field": "p", "type": "quantitative"},
   "color": {"field": "k", "type": "nominal", "scale": {"domain": ["wk", "mo"], "range": ["#1414e6", "#f0f078"]}, "legend": null}}},
{"data": {"name": "dp"}, "mark": {"type": "line", "interpolate": "step-after", "color": "#e00000", "strokeWidth": 1.5},
 "encoding": {"x": {"field": "t", "type": "temporal"}, "y": {"field": "p", "type": "quantitative"}}},
{"data": {"name": "bars"}, "mark": {"type": "rule", "color": "#22d022", "strokeWidth": 1},
 "encoding": {"x": {"field": "t", "type": "temporal"}, "y": {"field": "l", "type": "quantitative"}, "y2": {"field": "h"}}},
{"data": {"name": "bars"}, "mark": {"type": "rule", "color": "#72e872", "strokeWidth": 2, "strokeCap": "butt"},
 "encoding": {"x": {"field": "t", "type": "temporal"}, "y": {"field": "o", "type": "quantitative"}, "y2": {"field": "c"}}},
{"data": {"name": "ma"}, "mark": {"type": "line", "strokeWidth": 2, "interpolate": "monotone"},
 "encoding": {"x": {"field": "t", "type": "temporal"}, "y": {"field": "v", "type": "quantitative"},
   "color": {"field": "s", "type": "nominal", "scale": {"domain": ["a", "b", "c"], "range": ["#d81818", "#2020d0", "#d81818"]}, "legend": null}}},
{"data": {"name": "ind"}, "mark": {"type": "line", "strokeWidth": 2, "strokeDash": [2, 1]},
 "encoding": {"x": {"field": "t", "type": "temporal"}, "y": {"field": "v", "type": "quantitative"}, "detail": {"field": "s"},
   "color": {"field": "k", "type": "nominal", "scale": {"domain": ["o", "g"], "range": ["#f0a830", "#b8f040"]}, "legend": null}}},
{"data": {"name": "dots"}, "mark": {"type": "point", "filled": true, "size": 30, "opacity": 1},
 "encoding": {"x": {"field": "t", "type": "temporal"}, "y": {"field": "v", "type": "quantitative"},
   "color": {"field": "k", "type": "nominal", "scale": {"domain": ["o", "g"], "range": ["#f0a030", "#a8e838"]}, "legend": null}}},
{"data": {"name": "pbox"}, "mark": {"type": "point", "shape": "M-1,-0.3H1V0.3H-1Z", "size": 1369, "filled": true, "fill": "#000000", "strokeWidth": 1, "opacity": 1},
 "encoding": {"x": {"field": "t", "type": "temporal"}, "y": {"field": "p", "type": "quantitative"},
   "stroke": {"field": "k", "type": "nominal", "scale": {"domain": ["wk", "mo", "dy"], "range": ["#1414e6", "#f0e68c", "#e01010"]}, "legend": null}}},
{"data": {"name": "pbox"}, "mark": {"type": "text", "align": "center", "baseline": "middle", "fontSize": 9, "font": "Liberation Sans"},
 "encoding": {"x": {"field": "t", "type": "temporal"}, "y": {"field": "p", "type": "quantitative"}, "text": {"field": "s"},
   "color": {"field": "k", "type": "nominal", "scale": {"domain": ["wk", "mo", "dy"], "range": ["#2828ff", "#f0e68c", "#e01010"]}, "legend": null}}},
{"data": {"name": "pname"}, "mark": {"type": "text", "align": "center", "baseline": "middle", "fontSize": 10, "font": "Liberation Sans"},
 "encoding": {"x": {"field": "t", "type": "temporal"}, "y": {"field": "p", "type": "quantitative"}, "text": {"field": "s"},
   "color": {"field": "k", "type": "nominal", "scale": {"domain": ["wk", "mo", "dy"], "range": ["#1010b0", "#e0d080", "#d02020"]}, "legend": null}}},
{"data": {"name": "abox"}, "mark": {"type": "point", "shape": "M-1,-0.3H1V0.3H-1Z", "size": 961, "filled": true, "opacity": 1},
 "encoding": {"x": {"field": "tb", "type": "temporal"}, "y": {"field": "p", "type": "quantitative"},
   "fill": {"field": "k", "type": "nominal", "scale": {"domain": ["h5", "cur", "l5"], "range": ["#40d070", "#ffffff", "#e02020"]}, "legend": null}}},
{"data": {"name": "abox"}, "mark": {"type": "text", "align": "left", "baseline": "middle", "fontSize": 7, "font": "Liberation Sans", "color": "#000000"},
 "encoding": {"x": {"field": "tt", "type": "temporal"}, "y": {"field": "p", "type": "quantitative"}, "text": {"field": "s"}}},
{"data": {"name": "title"}, "mark": {"type": "text", "align": "left", "baseline": "middle", "fontSize": 7, "fontWeight": "bold", "font": "Liberation Sans", "color": "#ffffff"},
 "encoding": {"x": {"field": "t", "type": "temporal"}, "y": {"field": "p", "type": "quantitative"}, "text": {"field": "s"}}},
{"data": {"name": "five"}, "mark": {"type": "text", "align": "left", "baseline": "middle", "fontSize": 7.5, "font": "Liberation Sans", "color": "#ffffff"},
 "encoding": {"x": {"field": "t", "type": "temporal"}, "y": {"field": "p", "type": "quantitative"}, "text": {"field": "s"}}},
{"data": {"name": "big"}, "mark": {"type": "text", "align": "right", "baseline": "middle", "fontSize": 16, "font": "Liberation Sans", "color": "#30e030"},
 "encoding": {"x": {"field": "t", "type": "temporal"}, "y": {"field": "p", "type": "quantitative"}, "text": {"field": "s"}}},
{"data": {"name": "ilab"}, "mark": {"type": "text", "align": "right", "baseline": "middle", "fontSize": 10, "font": "Liberation Sans", "color": "#48c8d8"},
 "encoding": {"x": {"field": "t", "type": "temporal"}, "y": {"field": "p", "type": "quantitative"}, "text": {"field": "s"}}},
{"data": {"name": "ival"}, "mark": {"type": "text", "align": "right", "baseline": "middle", "fontSize": 10, "fontWeight": "bold", "font": "Liberation Sans"},
 "encoding": {"x": {"field": "t", "type": "temporal"}, "y": {"field": "p", "type": "quantitative"}, "text": {"field": "s"},
   "color": {"field": "k", "type": "nominal", "scale": {"domain": ["sp", "po", "hl", "da"], "range": ["#f0e040", "#1010e0", "#1010e0", "#e01818"]}, "legend": null}}},
{"data": {"name": "shift"}, "mark": {"type": "text", "align": "center", "baseline": "middle", "fontSize": 8, "color": "#a0a0a0"},
 "encoding": {"x": {"field": "t", "type": "temporal"}, "y": {"field": "p", "type": "quantitative"}, "text": {"field": "s"}}}
],
"resolve": {"scale": {"color": "independent", "stroke": "independent", "fill": "independent"}}
},
{
"width": 992, "height": 23,
"view": {"stroke": "#ffffff", "strokeWidth": 1},
"layer": [
{"data": {"name": "sep"}, "mark": {"type": "rule", "color": "#909090", "strokeDash": [3, 3]},
 "encoding": {"x": {"field": "t", "type": "temporal", "scale": {"type": "utc", "domain": [{"year": 2014, "month": 8, "date": 5, "hours": 6, "minutes": 30, "utc": true}, {"year": 2014, "month": 8, "date": 8, "hours": 17, "minutes": 10, "utc": true}]},
   "axis": {"values": [
     {"year": 2014, "month": 8, "date": 5, "hours": 6, "minutes": 45, "utc": true},
     {"year": 2014, "month": 8, "date": 5, "hours": 10, "minutes": 45, "utc": true},
     {"year": 2014, "month": 8, "date": 5, "hours": 14, "minutes": 45, "utc": true},
     {"year": 2014, "month": 8, "date": 5, "hours": 18, "minutes": 45, "utc": true},
     {"year": 2014, "month": 8, "date": 5, "hours": 22, "minutes": 45, "utc": true},
     {"year": 2014, "month": 8, "date": 6, "hours": 2, "minutes": 45, "utc": true},
     {"year": 2014, "month": 8, "date": 6, "hours": 6, "minutes": 45, "utc": true},
     {"year": 2014, "month": 8, "date": 6, "hours": 10, "minutes": 45, "utc": true},
     {"year": 2014, "month": 8, "date": 6, "hours": 14, "minutes": 45, "utc": true},
     {"year": 2014, "month": 8, "date": 6, "hours": 18, "minutes": 45, "utc": true},
     {"year": 2014, "month": 8, "date": 6, "hours": 22, "minutes": 45, "utc": true},
     {"year": 2014, "month": 8, "date": 7, "hours": 2, "minutes": 45, "utc": true},
     {"year": 2014, "month": 8, "date": 7, "hours": 6, "minutes": 45, "utc": true},
     {"year": 2014, "month": 8, "date": 7, "hours": 10, "minutes": 45, "utc": true},
     {"year": 2014, "month": 8, "date": 7, "hours": 14, "minutes": 45, "utc": true},
     {"year": 2014, "month": 8, "date": 7, "hours": 18, "minutes": 45, "utc": true},
     {"year": 2014, "month": 8, "date": 7, "hours": 22, "minutes": 45, "utc": true}],
     "labelExpr": "utcFormat(datum.value, '%H:%M') == '06:45' && utcFormat(datum.value, '%d') == '05' ? '5 Aug 2014' : utcFormat(datum.value, '%-d %b %H:%M')",
     "labelAlign": "left", "labelColor": "#ffffff", "labelFontSize": 8, "labelFont": "Liberation Sans", "tickColor": "#ffffff", "tickSize": 3, "labelPadding": 1, "domain": false, "grid": false, "title": null, "labelOverlap": false, "labelFlush": false}}}},
{"data": {"name": "grid"}, "mark": {"type": "text", "color": "#ffffff", "fontSize": 9, "font": "Liberation Sans", "baseline": "middle", "align": "center"},
 "encoding": {"x": {"field": "t", "type": "temporal"},
   "y": {"datum": 1.1, "type": "quantitative", "scale": {"domain": [-1.27, 2.91], "nice": false, "zero": false},
     "axis": {"orient": "right", "values": [0, 2], "labelExpr": "datum.value == 0 ? '0.00' : '2'", "ticks": false, "domain": false, "labelColor": "#ffffff", "labelFontSize": 8, "labelFont": "Liberation Sans", "labelPadding": 6, "grid": false, "title": null, "labelAlign": "left"}},
   "text": {"field": "hr"}}}
]
}
]
}
